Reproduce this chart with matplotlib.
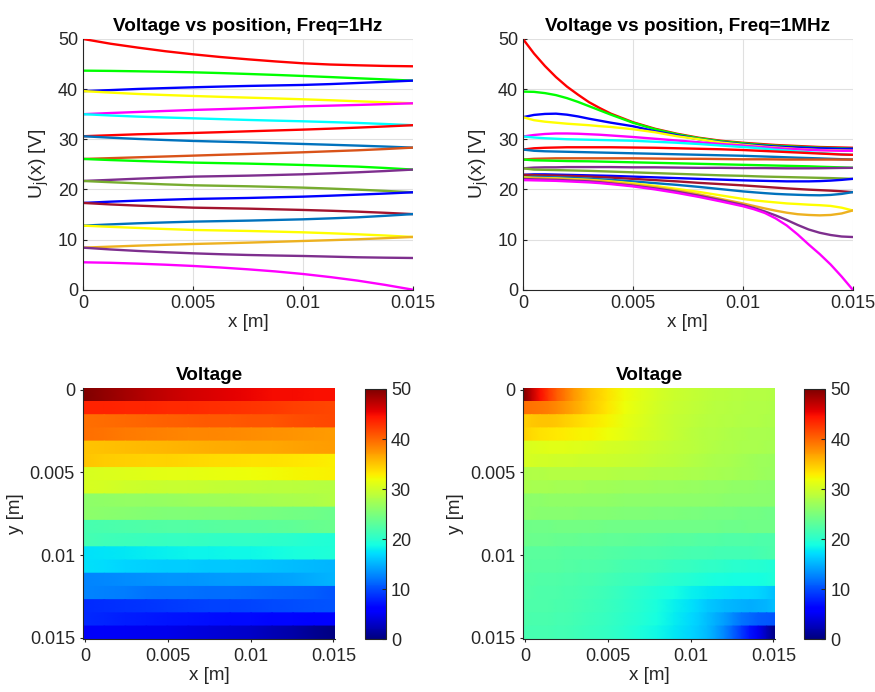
import numpy as np
import matplotlib
matplotlib.use('Agg')
import matplotlib.pyplot as plt

plt.rcParams['font.family'] = ['Liberation Sans', 'DejaVu Sans']
plt.rcParams['mathtext.fontset'] = 'custom'
plt.rcParams['mathtext.rm'] = 'Liberation Sans'
plt.rcParams['mathtext.it'] = 'Liberation Sans:italic'

# position along each strip [mm], 1 Hz case
x_1hz_mm = [0, 1.25, 2.5, 3.75, 5, 6.25, 7.5, 8.75, 10, 11.25, 12.5, 13.75, 15]

# U_j(x) at 1 Hz, one row per strip j=1..19 [V]
u_1hz = [
    [50.0, 49.05, 48.27, 47.55, 46.94, 46.4, 45.94, 45.52, 45.15, 44.9, 44.75, 44.62, 44.55],
    [43.68, 43.63, 43.55, 43.46, 43.35, 43.2, 43.02, 42.83, 42.62, 42.4, 42.16, 41.93, 41.69],
    [39.6, 39.8, 40.03, 40.2, 40.36, 40.5, 40.63, 40.73, 40.83, 41.0, 41.22, 41.45, 41.69],
    [39.6, 39.3, 39.03, 38.82, 38.63, 38.46, 38.30, 38.14, 37.97, 37.78, 37.57, 37.37, 37.17],
    [35.0, 35.23, 35.44, 35.64, 35.84, 36.0, 36.17, 36.37, 36.57, 36.7, 36.84, 37.0, 37.17],
    [35.0, 34.74, 34.51, 34.34, 34.18, 34.01, 33.85, 33.71, 33.58, 33.42, 33.25, 33.04, 32.80],
    [30.6, 30.8, 30.99, 31.12, 31.25, 31.41, 31.58, 31.75, 31.92, 32.11, 32.32, 32.55, 32.80],
    [30.6, 30.31, 30.06, 29.85, 29.66, 29.52, 29.39, 29.22, 29.06, 28.9, 28.73, 28.54, 28.33],
    [26.07, 26.23, 26.40, 26.56, 26.73, 26.9, 27.06, 27.23, 27.40, 27.6, 27.80, 28.05, 28.33],
    [26.07, 25.85, 25.67, 25.5, 25.34, 25.24, 25.14, 25.01, 24.87, 24.71, 24.54, 24.27, 23.95],
    [21.68, 21.9, 22.14, 22.35, 22.54, 22.64, 22.74, 22.87, 23.01, 23.2, 23.41, 23.66, 23.95],
    [21.68, 21.43, 21.21, 21.0, 20.82, 20.72, 20.62, 20.49, 20.35, 20.16, 19.95, 19.7, 19.42],
    [17.3, 17.55, 17.76, 17.93, 18.09, 18.19, 18.29, 18.42, 18.55, 18.74, 18.95, 19.17, 19.42],
    [17.3, 17.0, 16.76, 16.55, 16.36, 16.26, 16.16, 16.03, 15.90, 15.74, 15.56, 15.33, 15.07],
    [12.77, 13.02, 13.24, 13.41, 13.57, 13.67, 13.77, 13.9, 14.03, 14.22, 14.43, 14.73, 15.07],
    [12.77, 12.53, 12.31, 12.1, 11.91, 11.81, 11.71, 11.58, 11.44, 11.25, 11.04, 10.8, 10.51],
    [8.38, 8.58, 8.78, 8.95, 9.11, 9.24, 9.38, 9.54, 9.71, 9.87, 10.05, 10.27, 10.51],
    [8.38, 8.02, 7.72, 7.47, 7.25, 7.07, 6.92, 6.81, 6.72, 6.59, 6.46, 6.38, 6.32],
    [5.46, 5.36, 5.19, 4.98, 4.73, 4.42, 4.06, 3.64, 3.13, 2.51, 1.80, 0.95, 0.0],
]

# position along each strip [mm], 1 MHz case
x_1mhz_mm = [0, 0.5, 1, 1.5, 2, 2.5, 3, 3.5, 4, 5, 6, 7, 8, 9, 10,
             10.5, 11, 11.5, 12, 12.5, 13, 13.5, 14, 14.5, 15]

# U_j(x) at 1 MHz [V]
u_1mhz = [
    [50.0, 47.1, 44.6, 42.4, 40.5, 38.9, 37.4, 36.2, 35.1, 33.4, 32.1, 31.1, 30.3, 29.7, 29.3,
     29.15, 29.0, 28.85, 28.75, 28.65, 28.55, 28.45, 28.4, 28.35, 28.3],
    [39.5, 39.45, 39.2, 38.8, 38.2, 37.45, 36.6, 35.75, 34.9, 33.3, 32.0, 31.0, 30.2, 29.6, 29.2,
     29.0, 28.85, 28.7, 28.6, 28.5, 28.4, 28.3, 28.25, 28.2, 28.1],
    [34.4, 34.85, 35.05, 35.1, 34.9, 34.55, 34.1, 33.7, 33.3, 32.6, 31.6, 30.8, 30.0, 29.45, 29.0,
     28.85, 28.7, 28.55, 28.45, 28.35, 28.3, 28.2, 28.15, 28.1, 28.1],
    [34.4, 33.8, 33.5, 33.3, 33.1, 32.95, 32.8, 32.6, 32.45, 32.0, 31.4, 30.6, 30.0, 29.35, 28.9,
     28.7, 28.5, 28.35, 28.2, 28.05, 27.95, 27.85, 27.8, 27.75, 27.7],
    [30.55, 30.85, 31.05, 31.15, 31.15, 31.1, 31.0, 30.9, 30.75, 30.45, 30.1, 29.75, 29.4, 29.05, 28.75,
     28.55, 28.4, 28.25, 28.1, 28.0, 27.9, 27.8, 27.75, 27.7, 27.7],
    [30.55, 30.35, 30.2, 30.1, 30.0, 29.95, 29.9, 29.85, 29.8, 29.7, 29.5, 29.3, 29.05, 28.75, 28.45,
     28.3, 28.1, 27.9, 27.75, 27.55, 27.4, 27.25, 27.1, 27.0, 26.9],
    [27.95, 28.2, 28.3, 28.35, 28.4, 28.4, 28.4, 28.4, 28.4, 28.35, 28.3, 28.2, 28.1, 28.0, 27.85,
     27.75, 27.65, 27.55, 27.45, 27.35, 27.25, 27.15, 27.05, 26.95, 26.9],
    [27.95, 27.7, 27.6, 27.55, 27.5, 27.45, 27.4, 27.35, 27.3, 27.2, 27.1, 27.0, 26.9, 26.8, 26.7,
     26.62, 26.55, 26.48, 26.4, 26.32, 26.25, 26.18, 26.1, 26.02, 25.95],
    [25.95, 26.1, 26.15, 26.2, 26.2, 26.2, 26.2, 26.2, 26.2, 26.2, 26.15, 26.1, 26.1, 26.05, 26.0,
     26.0, 26.0, 25.98, 25.95, 25.95, 25.95, 25.95, 25.95, 25.95, 25.95],
    [25.95, 25.8, 25.75, 25.7, 25.65, 25.62, 25.6, 25.55, 25.5, 25.4, 25.3, 25.2, 25.1, 25.0, 24.9,
     24.85, 24.8, 24.75, 24.7, 24.65, 24.6, 24.52, 24.45, 24.38, 24.3],
    [24.2, 24.35, 24.4, 24.4, 24.45, 24.45, 24.45, 24.45, 24.45, 24.4, 24.4, 24.35, 24.3, 24.3, 24.25,
     24.25, 24.25, 24.22, 24.2, 24.2, 24.2, 24.22, 24.25, 24.28, 24.3],
    [24.2, 23.95, 23.9, 23.85, 23.8, 23.75, 23.7, 23.62, 23.55, 23.4, 23.25, 23.1, 22.95, 22.8, 22.7,
     22.62, 22.55, 22.5, 22.45, 22.4, 22.35, 22.3, 22.25, 22.18, 22.1],
    [22.9, 23.0, 23.0, 22.95, 22.9, 22.85, 22.8, 22.75, 22.7, 22.55, 22.4, 22.25, 22.1, 21.95, 21.8,
     21.75, 21.7, 21.65, 21.6, 21.6, 21.6, 21.65, 21.75, 21.9, 22.1],
    [22.9, 22.85, 22.8, 22.75, 22.7, 22.62, 22.55, 22.45, 22.35, 22.1, 21.85, 21.6, 21.3, 21.05, 20.8,
     20.65, 20.5, 20.35, 20.2, 20.07, 19.95, 19.85, 19.75, 19.62, 19.45],
    [22.4, 22.5, 22.45, 22.4, 22.35, 22.25, 22.15, 22.02, 21.9, 21.6, 21.25, 20.9, 20.5, 20.05, 19.6,
     19.42, 19.25, 19.1, 19.0, 18.92, 18.85, 18.82, 18.9, 19.1, 19.45],
    [22.4, 22.3, 22.25, 22.2, 22.1, 22.0, 21.9, 21.75, 21.6, 21.2, 20.7, 20.1, 19.5, 18.8, 18.1,
     17.82, 17.6, 17.4, 17.2, 17.08, 16.95, 16.85, 16.7, 16.35, 15.8],
    [22.1, 22.25, 22.2, 22.1, 22.0, 21.9, 21.8, 21.65, 21.45, 21.0, 20.45, 19.8, 19.0, 18.1, 17.2,
     16.7, 16.2, 15.75, 15.35, 15.05, 14.9, 14.82, 14.9, 15.2, 15.8],
    [22.1, 22.0, 21.95, 21.9, 21.8, 21.7, 21.6, 21.42, 21.2, 20.75, 20.2, 19.55, 18.75, 17.85, 16.9,
     16.3, 15.6, 14.8, 13.9, 12.9, 12.0, 11.35, 10.9, 10.6, 10.5],
    [21.85, 21.8, 21.75, 21.7, 21.6, 21.5, 21.4, 21.25, 21.05, 20.6, 20.0, 19.3, 18.5, 17.6, 16.65,
     16.05, 15.3, 14.2, 12.8, 11.0, 9.0, 7.1, 5.0, 2.6, 0.0],
]

line_colors = ['#FF0000', '#00FF00', '#0000FF', '#FFFF00', '#FF00FF', '#00FFFF',
               '#FF0000', '#0072BD', '#D95319', '#00FF00', '#7E2F8E', '#77AC30',
               '#0000FF', '#A2142F', '#0072BD', '#FFFF00', '#EDB120', '#7E2F8E',
               '#FF00FF']

pos_ticks = [0, 0.005, 0.01, 0.015]
pos_labels = ['0', '0.005', '0.01', '0.015']
volt_ticks = [0, 10, 20, 30, 40, 50]

GRAY = '0.15'
fig = plt.figure(figsize=(8.75, 6.92), dpi=100)


def line_panel(rect, x_mm, curves, title):
    ax = fig.add_axes(rect)
    x = np.array(x_mm) / 1000.0
    for u, c in zip(curves, line_colors):
        ax.plot(x, u, color=c, lw=1.7)
    ax.set_xlim(0, 0.015)
    ax.set_ylim(0, 50)
    ax.set_xticks(pos_ticks)
    ax.set_xticklabels(pos_labels)
    ax.set_yticks(volt_ticks)
    ax.grid(True, color='0.88', lw=0.8)
    ax.set_axisbelow(True)
    ax.spines['top'].set_visible(False)
    ax.spines['right'].set_visible(False)
    for s in ['left', 'bottom']:
        ax.spines[s].set_color(GRAY)
        ax.spines[s].set_linewidth(0.8)
    ax.tick_params(direction='in', length=3, colors=GRAY, labelsize=13)
    ax.set_title(title, fontsize=13.7, fontweight='bold', pad=6)
    ax.set_xlabel('x [m]', fontsize=13.5, color=GRAY, labelpad=2)
    ax.set_ylabel(r'U$_\mathrm{j}$(x) [V]', fontsize=14, color=GRAY, labelpad=5)
    return ax


def map_panel(rect, cbrect, x_mm, curves):
    ax = fig.add_axes(rect)
    u = np.array(curves)
    n, m = u.shape
    pad = 0.0001
    span = 0.015 + 2 * pad
    xv = -pad + np.array(x_mm) / 15.0 * span
    edges = np.linspace(-pad, 0.015 + pad, n + 1)
    X = np.tile(xv, (2 * n, 1))
    Y = np.repeat(np.column_stack([edges[:-1], edges[1:]]).ravel()[:, None], m, axis=1)
    C = np.repeat(u, 2, axis=0)
    mesh = ax.pcolormesh(X, Y, C, shading='gouraud', cmap='jet', vmin=0, vmax=50)
    ax.set_xlim(-pad, 0.015 + pad)
    ax.set_ylim(0.015 + pad, -pad)
    ax.set_xticks(pos_ticks)
    ax.set_xticklabels(pos_labels)
    ax.set_yticks(pos_ticks)
    ax.set_yticklabels(pos_labels)
    ax.spines['top'].set_visible(False)
    ax.spines['right'].set_visible(False)
    for s in ['left', 'bottom']:
        ax.spines[s].set_color(GRAY)
        ax.spines[s].set_linewidth(0.8)
    ax.tick_params(direction='out', length=2.5, colors=GRAY, labelsize=13)
    ax.set_title('Voltage', fontsize=13.7, fontweight='bold', pad=6)
    ax.set_xlabel('x [m]', fontsize=13.5, color=GRAY, labelpad=2)
    ax.set_ylabel('y [m]', fontsize=13.5, color=GRAY, labelpad=4)

    cax = fig.add_axes(cbrect)
    cb = fig.colorbar(mesh, cax=cax, ticks=volt_ticks)
    cb.outline.set_edgecolor(GRAY)
    cb.outline.set_linewidth(0.8)
    cax.tick_params(direction='in', length=3, colors=GRAY, labelsize=13)
    return ax


line_panel([0.0949, 0.5814, 0.3768, 0.3623], x_1hz_mm, u_1hz, 'Voltage vs position, Freq=1Hz')
line_panel([0.5977, 0.5814, 0.3768, 0.3623], x_1mhz_mm, u_1mhz, 'Voltage vs position, Freq=1MHz')

map_panel([0.0952, 0.0762, 0.2877, 0.3627], [0.4171, 0.0762, 0.024, 0.3617], x_1hz_mm, u_1hz)
map_panel([0.5981, 0.0762, 0.2877, 0.3627], [0.9192, 0.0762, 0.024, 0.3617], x_1mhz_mm, u_1mhz)

fig.savefig('out.png', dpi=100)
